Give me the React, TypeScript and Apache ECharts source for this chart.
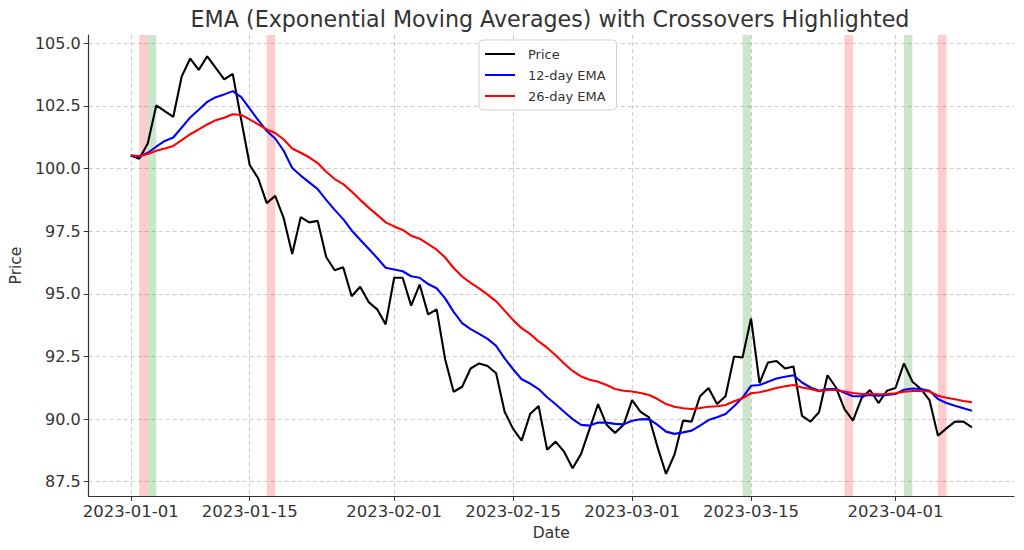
import React, { useEffect, useRef } from 'react';
import * as echarts from 'echarts';

const startDate = '2023-01-01';

const price = [
  100.52, 100.39, 101.0, 102.52, 102.29, 102.06, 103.68, 104.39, 103.94, 104.48,
  104.02, 103.56, 103.78, 101.95, 100.14, 99.61, 98.62, 98.91, 98.02, 96.59,
  98.06, 97.85, 97.91, 96.47, 95.94, 96.06, 94.9, 95.28, 94.67, 94.38,
  93.78, 95.64, 95.64, 94.53, 95.37, 94.18, 94.38, 92.39, 91.09, 91.29,
  92.02, 92.22, 92.12, 91.83, 90.29, 89.61, 89.14, 90.2, 90.52, 88.78,
  89.1, 88.7, 88.04, 88.61, 89.61, 90.6, 89.77, 89.45, 89.77, 90.76,
  90.29, 90.07, 88.88, 87.81, 88.59, 89.94, 89.9, 90.91, 91.24, 90.6,
  90.91, 92.5, 92.46, 94.02, 91.44, 92.26, 92.32, 92.02, 92.1, 90.13,
  89.9, 90.27, 91.75, 91.26, 90.4, 89.94, 90.83, 91.16, 90.64, 91.13,
  91.24, 92.22, 91.49, 91.2, 90.76, 89.34, 89.63, 89.9, 89.9, 89.67,
];

const ema12 = [
  100.52, 100.47, 100.63, 100.87, 101.1, 101.24, 101.64, 102.04, 102.35, 102.66,
  102.85, 102.96, 103.09, 102.85, 102.39, 101.93, 101.5, 101.2, 100.71, 100.02,
  99.72, 99.45, 99.18, 98.75, 98.35, 97.98, 97.53, 97.16, 96.8, 96.43,
  96.04, 95.97, 95.9, 95.7, 95.64, 95.39, 95.22, 94.82, 94.28, 93.83,
  93.59, 93.4, 93.2, 92.92, 92.42, 91.99, 91.59, 91.42, 91.2, 90.87,
  90.59, 90.29, 90.0, 89.77, 89.74, 89.86, 89.86, 89.81, 89.79, 89.93,
  89.99, 90.0, 89.77, 89.5, 89.41, 89.47, 89.54, 89.74, 89.96, 90.07,
  90.2, 90.51, 90.86, 91.33, 91.36, 91.49, 91.62, 91.69, 91.75, 91.46,
  91.26, 91.13, 91.2, 91.2, 91.05, 90.91, 90.91, 90.96, 90.93, 90.96,
  91.0, 91.17, 91.22, 91.2, 91.13, 90.8, 90.64, 90.53, 90.43, 90.33,
];

const ema26 = [
  100.52, 100.5, 100.58, 100.71, 100.8, 100.9, 101.13, 101.37, 101.56, 101.76,
  101.93, 102.03, 102.17, 102.14, 101.96, 101.76, 101.56, 101.42, 101.16, 100.8,
  100.63, 100.45, 100.22, 99.87, 99.58, 99.38, 99.08, 98.75, 98.44, 98.15,
  97.85, 97.69, 97.55, 97.32, 97.2, 96.98, 96.76, 96.45, 96.03, 95.69,
  95.44, 95.22, 94.97, 94.7, 94.33, 93.95, 93.63, 93.4, 93.1, 92.85,
  92.55, 92.22, 91.92, 91.7, 91.57, 91.49, 91.36, 91.2, 91.13, 91.1,
  91.04, 90.96, 90.8, 90.6, 90.49, 90.43, 90.4, 90.44, 90.49, 90.51,
  90.56, 90.71, 90.83, 91.03, 91.07, 91.15, 91.24, 91.31, 91.36, 91.26,
  91.2, 91.11, 91.16, 91.16, 91.1, 91.04, 91.0, 91.0, 90.99, 91.0,
  91.03, 91.09, 91.12, 91.12, 91.1, 90.93, 90.85, 90.79, 90.72, 90.67,
];

const bullishCrossDates = ['2023-01-03', '2023-03-14', '2023-04-02'];
const bearishCrossDates = ['2023-01-02', '2023-01-17', '2023-03-26', '2023-04-06'];

const xTickLabels = ['2023-01-01', '2023-01-15', '2023-02-01', '2023-02-15', '2023-03-01', '2023-03-15', '2023-04-01'];
const yTickValues = [87.5, 90.0, 92.5, 95.0, 97.5, 100.0, 102.5, 105.0];

const DAY = 86400000;
const FONT = '"DejaVu Sans", Verdana, sans-serif';
const TEXT = '#333333';

function parseDate(s: string, addDays = 0): number {
  const [y, m, d] = s.split('-').map(Number);
  return new Date(y, m - 1, d + addDays).getTime();
}
function pad(n: number) {
  return n < 10 ? '0' + n : '' + n;
}
function fmtDate(v: number) {
  const dt = new Date(v);
  return `${dt.getFullYear()}-${pad(dt.getMonth() + 1)}-${pad(dt.getDate())}`;
}

export default function App() {
  const ref = useRef<HTMLDivElement>(null);

  useEffect(() => {
    if (!ref.current) return;
    const chart = echarts.init(ref.current, undefined, { renderer: 'svg' });

    const times = price.map((_, i) => parseDate(startDate, i));
    const t0 = times[0];
    const xMin = t0 - 4.95 * DAY;
    const xMax = t0 + 103.95 * DAY;
    const xTicks = xTickLabels.map((s) => parseDate(s));

    const bands: any[] = [];
    bearishCrossDates.forEach((s) => {
      const a = parseDate(s);
      bands.push([
        { xAxis: a, itemStyle: { color: 'rgba(255,0,0,0.2)' } },
        { xAxis: a + DAY },
      ]);
    });
    bullishCrossDates.forEach((s) => {
      const a = parseDate(s);
      bands.push([
        { xAxis: a, itemStyle: { color: 'rgba(0,128,0,0.2)' } },
        { xAxis: a + DAY },
      ]);
    });

    const mk = (arr: number[]) => arr.map((v, i) => [times[i], v]);

    chart.setOption({
      animation: false,
      backgroundColor: '#ffffff',
      textStyle: { fontFamily: FONT },
      title: {
        text: 'EMA (Exponential Moving Averages) with Crossovers Highlighted',
        left: 545,
        textAlign: 'center',
        top: 3,
        textStyle: { fontFamily: FONT, fontSize: 22.2, fontWeight: 'normal', color: TEXT },
      },
      legend: {
        orient: 'vertical',
        left: 479,
        top: 40,
        padding: [6, 11, 6, 6],
        itemGap: 5,
        itemWidth: 30,
        itemHeight: 2,
        icon: 'rect',
        borderColor: '#d0d0d0',
        borderWidth: 1,
        borderRadius: 4,
        backgroundColor: 'rgba(255,255,255,0.85)',
        textStyle: { fontFamily: FONT, fontSize: 13, color: TEXT, lineHeight: 16, padding: [0, 0, 0, 8] },
        data: ['Price', '12-day EMA', '26-day EMA'],
      },
      grid: { left: 85, right: 10, top: 35, bottom: 54 },
      xAxis: {
        type: 'value',
        min: xMin,
        max: xMax,
        scale: true,
        name: 'Date',
        nameLocation: 'middle',
        nameGap: 26,
        nameTextStyle: { fontFamily: FONT, fontSize: 15.5, color: TEXT },
        axisLine: { show: true, onZero: false, lineStyle: { color: '#333333', width: 1.2 } },
        axisTick: { show: true, length: 5, inside: false, customValues: xTicks, lineStyle: { color: '#333333' } },
        axisLabel: {
          customValues: xTicks,
          formatter: (v: number) => fmtDate(v),
          fontFamily: FONT,
          fontSize: 16.5,
          color: TEXT,
          margin: 7,
          hideOverlap: false,
        },
        splitLine: { show: true, lineStyle: { color: '#cccccc', type: [4, 3], width: 1 } },
      },
      yAxis: {
        type: 'value',
        min: 86.93,
        max: 105.33,
        scale: true,
        name: 'Price',
        nameLocation: 'middle',
        nameGap: 58,
        nameTextStyle: { fontFamily: FONT, fontSize: 15.5, color: TEXT },
        axisLine: { show: true, onZero: false, lineStyle: { color: '#333333', width: 1.2 } },
        axisTick: { show: true, length: 5, inside: false, customValues: yTickValues, lineStyle: { color: '#333333' } },
        axisLabel: {
          customValues: yTickValues,
          formatter: (v: number) => v.toFixed(1),
          fontFamily: FONT,
          fontSize: 16,
          color: TEXT,
          margin: 8,
        },
        splitLine: { show: true, lineStyle: { color: '#cccccc', type: [4, 3], width: 1 } },
      },
      series: [
        {
          name: 'bands',
          type: 'line',
          data: [],
          z: 1,
          silent: true,
          markArea: { silent: true, data: bands },
        },
        {
          name: 'Price',
          type: 'line',
          data: mk(price),
          symbol: 'none',
          z: 2,
          itemStyle: { color: '#000000' },
          lineStyle: { color: '#000000', width: 2.1 },
        },
        {
          name: '12-day EMA',
          type: 'line',
          data: mk(ema12),
          symbol: 'none',
          z: 3,
          itemStyle: { color: '#0000ff' },
          lineStyle: { color: '#0000ff', width: 2.1 },
        },
        {
          name: '26-day EMA',
          type: 'line',
          data: mk(ema26),
          symbol: 'none',
          z: 4,
          itemStyle: { color: '#ff0000' },
          lineStyle: { color: '#ff0000', width: 2.1 },
        },
      ],
    });

    return () => chart.dispose();
  }, []);

  return (
    <div
      ref={ref}
      style={{ position: 'absolute', left: 0, top: 0, width: 1024, height: 550 }}
    />
  );
}
